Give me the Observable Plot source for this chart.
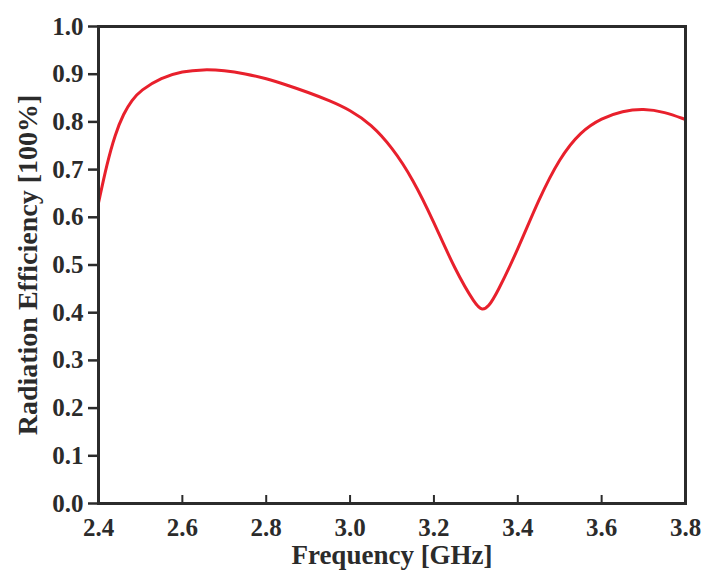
<!DOCTYPE html>
<html>
<head>
<meta charset="utf-8">
<script src="https://cdn.jsdelivr.net/npm/d3@7"></script>
<script src="https://cdn.jsdelivr.net/npm/@observablehq/plot@0.6"></script>
<style>
  html, body { margin: 0; padding: 0; background: #fff; }
</style>
</head>
<body>
<div id="chart"></div>
<script>
const freq = [2.40, 2.42, 2.44, 2.46, 2.48, 2.50, 2.55, 2.60, 2.65, 2.70, 2.75, 2.80, 2.85, 2.90, 2.95, 3.00, 3.05, 3.10, 3.15, 3.20, 3.25, 3.30, 3.315, 3.33, 3.35, 3.40, 3.45, 3.50, 3.55, 3.60, 3.65, 3.70, 3.75, 3.80];
const eff  = [0.630, 0.712, 0.775, 0.818, 0.846, 0.866, 0.893, 0.906, 0.910, 0.908, 0.901, 0.891, 0.877, 0.862, 0.845, 0.825, 0.795, 0.747, 0.680, 0.590, 0.490, 0.415, 0.405, 0.412, 0.440, 0.532, 0.638, 0.725, 0.780, 0.808, 0.823, 0.828, 0.821, 0.805];
const xTicks = [2.4, 2.6, 2.8, 3.0, 3.2, 3.4, 3.6, 3.8];
const yTicks = [0.0, 0.1, 0.2, 0.3, 0.4, 0.5, 0.6, 0.7, 0.8, 0.9, 1.0];
const xTitle = "Frequency [GHz]";
const yTitle = "Radiation Efficiency [100%]";

const data = freq.map((f, i) => ({f, v: eff[i]}));
const ink = "#2b2b2b";

const chart = Plot.plot({
  width: 716,
  height: 574,
  marginLeft: 98,
  marginRight: 31,
  marginTop: 26,
  marginBottom: 71,
  style: {fontFamily: "'Liberation Serif', 'Times New Roman', serif", fontWeight: "bold", fontSize: "25px", color: ink, background: "#fff"},
  x: {domain: [2.4, 3.8]},
  y: {domain: [0, 1]},
  marks: [
    Plot.line(data, {x: "f", y: "v", stroke: "#e8202c", strokeWidth: 3, curve: "basis"}),
    Plot.axisY({ticks: yTicks, tickFormat: d => d.toFixed(1), tickSize: 10, tickPadding: 5, strokeWidth: 2.5, stroke: ink, label: null, fontSize: 25}),
    Plot.axisX({ticks: xTicks.slice(1, -1), tickSize: -8, tickPadding: 0, strokeWidth: 2, stroke: ink, text: null, label: null}),
    Plot.text(xTicks, {x: d => d, frameAnchor: "bottom", dy: 32, text: d => d.toFixed(1), fontSize: 25, fill: ink}),
    Plot.frame({stroke: ink, strokeWidth: 3}),
    Plot.text([xTitle], {frameAnchor: "bottom", dy: 60, text: d => d, fontSize: 27, fill: ink}),
    Plot.text([yTitle], {frameAnchor: "left", dx: -70, rotate: -90, textAnchor: "middle", text: d => d, fontSize: 28, fill: ink})
  ]
});
document.getElementById("chart").appendChild(chart);
</script>
</body>
</html>
